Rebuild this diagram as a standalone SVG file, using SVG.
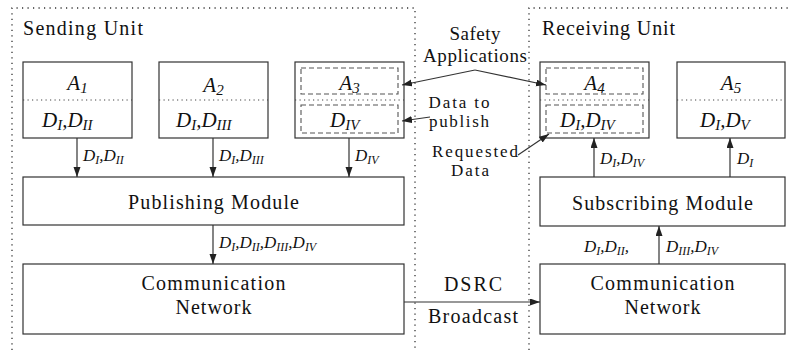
<svg xmlns="http://www.w3.org/2000/svg" width="789" height="350" viewBox="0 0 789 350">
<style>
.box{fill:#fff;stroke:#333;stroke-width:1.2}
.dash{fill:none;stroke:#555;stroke-width:1.1;stroke-dasharray:5,3}
.sep{fill:none;stroke:#444;stroke-width:1.1;stroke-dasharray:1.2,3.3}
.unit{fill:none;stroke:#333;stroke-width:1.3;stroke-dasharray:1.2,4.3}
.t{font-family:"Liberation Serif","Times New Roman",serif;font-size:20px;fill:#111}
.a{font-size:19px}
.b{font-size:17px}
.m{font-family:"Liberation Serif","Times New Roman",serif;font-style:italic;font-size:21px;fill:#111}
.ml{font-family:"Liberation Serif","Times New Roman",serif;font-style:italic;font-size:17px;fill:#111}
.s{font-size:15px}
.sl{font-size:12px}
.c{text-anchor:middle}
.con{stroke:#333;stroke-width:1.2;fill:none}
</style>
<defs>
<marker id="ah" markerUnits="userSpaceOnUse" markerWidth="10" markerHeight="8" refX="10" refY="3.5" orient="auto">
<path d="M0,0 L10,3.5 L0,7 z" fill="#222"/>
</marker>
</defs>

<g id="sending-unit">
<path class="unit" d="M12,350 V8 H415 V350"/>
<text class="t" x="23" y="35" textLength="120">Sending Unit</text>
</g>
<g id="receiving-unit">
<path class="unit" d="M529,350 V8 H789"/>
<text class="t" x="542" y="35" textLength="133">Receiving Unit</text>
</g>

<g id="A1">
<rect class="box" x="23" y="62" width="109" height="76"/>
<line class="sep" x1="23" y1="100" x2="132" y2="100"/>
<text class="m c" x="77.5" y="90">A<tspan class="s" dy="3">1</tspan></text>
<text class="m" x="42" y="127">D<tspan class="s" dy="3">I</tspan><tspan dy="-3">,D</tspan><tspan class="s" dy="3">II</tspan></text>
</g>
<g id="A2">
<rect class="box" x="159" y="62" width="109" height="76"/>
<line class="sep" x1="159" y1="100" x2="268" y2="100"/>
<text class="m c" x="213.5" y="92">A<tspan class="s" dy="3">2</tspan></text>
<text class="m" x="176" y="127">D<tspan class="s" dy="3">I</tspan><tspan dy="-3">,D</tspan><tspan class="s" dy="3">III</tspan></text>
</g>
<g id="A3">
<rect class="box" x="295" y="62" width="109" height="76"/>
<rect class="dash" x="301" y="68" width="97" height="26"/>
<line class="sep" x1="295" y1="100" x2="404" y2="100"/>
<rect class="dash" x="301" y="105" width="97" height="28"/>
<text class="m c" x="349.5" y="90">A<tspan class="s" dy="3">3</tspan></text>
<text class="m" x="330" y="127">D<tspan class="s" dy="3">IV</tspan></text>
</g>
<g id="A4">
<rect class="box" x="540" y="62" width="109" height="76"/>
<rect class="dash" x="546" y="68" width="97" height="26"/>
<line class="sep" x1="540" y1="100" x2="649" y2="100"/>
<rect class="dash" x="546" y="105" width="97" height="28"/>
<text class="m c" x="594.5" y="90">A<tspan class="s" dy="3">4</tspan></text>
<text class="m" x="560" y="127">D<tspan class="s" dy="3">I</tspan><tspan dy="-3">,D</tspan><tspan class="s" dy="3">IV</tspan></text>
</g>
<g id="A5">
<rect class="box" x="677" y="62" width="108" height="76"/>
<line class="sep" x1="677" y1="100" x2="785" y2="100"/>
<text class="m c" x="731" y="90">A<tspan class="s" dy="3">5</tspan></text>
<text class="m" x="700" y="127">D<tspan class="s" dy="3">I</tspan><tspan dy="-3">,D</tspan><tspan class="s" dy="3">V</tspan></text>
</g>

<g id="publishing-module">
<rect class="box" x="23" y="177" width="381" height="48"/>
<text class="t c" x="213.5" y="209" textLength="171">Publishing Module</text>
</g>
<g id="comm-network-send">
<rect class="box" x="23" y="264" width="381" height="70"/>
<text class="t c" x="213.5" y="290" textLength="144">Communication</text>
<text class="t c" x="213.5" y="314" textLength="76">Network</text>
</g>
<g id="subscribing-module">
<rect class="box" x="540" y="177" width="245" height="49"/>
<text class="t c" x="662.5" y="210" textLength="181">Subscribing Module</text>
</g>
<g id="comm-network-recv">
<rect class="box" x="540" y="264" width="245" height="70"/>
<text class="t c" x="662.5" y="290" textLength="144">Communication</text>
<text class="t c" x="662.5" y="314" textLength="76">Network</text>
</g>

<g id="annotations">
<text class="t a c" x="475" y="40" textLength="51">Safety</text>
<text class="t a c" x="475" y="62" textLength="104">Applications</text>
<text class="t b c" x="459" y="108" textLength="61">Data to</text>
<text class="t b c" x="459" y="127" textLength="60">publish</text>
<text class="t b c" x="475" y="157" textLength="86">Requested</text>
<text class="t b c" x="470" y="176" textLength="38">Data</text>
<text class="t c" x="473" y="291" textLength="58">DSRC</text>
<text class="t c" x="473" y="323" textLength="90">Broadcast</text>
</g>

<g id="connectors">
<line class="con" x1="77" y1="138" x2="77" y2="177" marker-end="url(#ah)"/>
<line class="con" x1="213" y1="138" x2="213" y2="177" marker-end="url(#ah)"/>
<line class="con" x1="349" y1="138" x2="349" y2="177" marker-end="url(#ah)"/>
<line class="con" x1="213" y1="225" x2="213" y2="264" marker-end="url(#ah)"/>
<line class="con" x1="404" y1="302" x2="540" y2="302" marker-end="url(#ah)"/>
<line class="con" x1="659" y1="264" x2="659" y2="226" marker-end="url(#ah)"/>
<line class="con" x1="594" y1="177" x2="594" y2="138" marker-end="url(#ah)"/>
<line class="con" x1="730" y1="177" x2="730" y2="138" marker-end="url(#ah)"/>
<line class="con" x1="475" y1="70" x2="402" y2="85" marker-end="url(#ah)"/>
<line class="con" x1="475" y1="70" x2="546" y2="85" marker-end="url(#ah)"/>
<line class="con" x1="430" y1="117" x2="402" y2="121" marker-end="url(#ah)"/>
<line class="con" x1="518" y1="155" x2="549" y2="134" marker-end="url(#ah)"/>
<text class="ml" x="83" y="161">D<tspan class="sl" dy="3">I</tspan><tspan dy="-3">,D</tspan><tspan class="sl" dy="3">II</tspan></text>
<text class="ml" x="219" y="161">D<tspan class="sl" dy="3">I</tspan><tspan dy="-3">,D</tspan><tspan class="sl" dy="3">III</tspan></text>
<text class="ml" x="355" y="161">D<tspan class="sl" dy="3">IV</tspan></text>
<text class="ml" x="219" y="248">D<tspan class="sl" dy="3">I</tspan><tspan dy="-3">,D</tspan><tspan class="sl" dy="3">II</tspan><tspan dy="-3">,D</tspan><tspan class="sl" dy="3">III</tspan><tspan dy="-3">,D</tspan><tspan class="sl" dy="3">IV</tspan></text>
<text class="ml" x="600" y="164">D<tspan class="sl" dy="3">I</tspan><tspan dy="-3">,D</tspan><tspan class="sl" dy="3">IV</tspan></text>
<text class="ml" x="737" y="164">D<tspan class="sl" dy="3">I</tspan></text>
<text class="ml" x="584" y="252">D<tspan class="sl" dy="3">I</tspan><tspan dy="-3">,D</tspan><tspan class="sl" dy="3">II</tspan><tspan dy="-3">,</tspan></text>
<text class="ml" x="666" y="252">D<tspan class="sl" dy="3">III</tspan><tspan dy="-3">,D</tspan><tspan class="sl" dy="3">IV</tspan></text>
</g>
</svg>
